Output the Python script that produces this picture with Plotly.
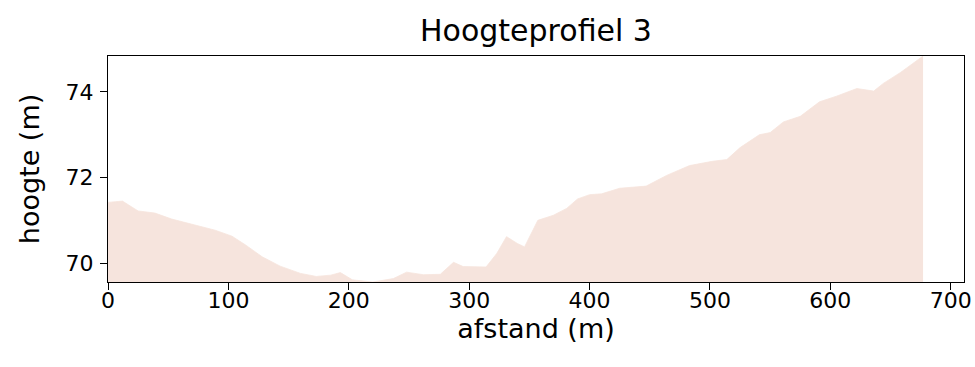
import plotly.graph_objects as go

afstand = [0, 12, 25, 39, 53, 70, 89, 103, 114, 128, 143, 160, 173, 185, 193, 203,
           220, 237, 248, 262, 276, 287, 295, 314, 323, 331, 340, 346, 357, 370,
           381, 390, 400, 410, 425, 447, 464, 483, 502, 514, 525, 541, 550, 561,
           575, 591, 605, 622, 636, 644, 658, 677]
hoogte = [71.42, 71.45, 71.22, 71.17, 71.03, 70.90, 70.77, 70.63, 70.43, 70.15,
          69.93, 69.76, 69.69, 69.72, 69.78, 69.61, 69.56, 69.64, 69.79, 69.73,
          69.74, 70.02, 69.92, 69.91, 70.23, 70.62, 70.46, 70.38, 71.00, 71.12,
          71.28, 71.50, 71.60, 71.62, 71.75, 71.80, 72.05, 72.28, 72.38, 72.42,
          72.70, 73.00, 73.05, 73.30, 73.43, 73.77, 73.90, 74.08, 74.02, 74.20,
          74.45, 74.84]
x_ticks = [0, 100, 200, 300, 400, 500, 600, 700]
y_ticks = [70, 72, 74]

fill_color = "rgb(246,228,221)"

fig = go.Figure()
fig.add_trace(go.Scatter(
    x=afstand, y=hoogte, mode="lines", fill="tozeroy",
    line=dict(color=fill_color, width=0.8), fillcolor=fill_color,
    hoverinfo="skip", showlegend=False,
))

font_family = "DejaVu Sans"
fig.update_layout(
    width=975, height=367,
    margin=dict(l=108, r=11, t=56, b=85),
    paper_bgcolor="white", plot_bgcolor="white",
    font=dict(family=font_family, color="black", size=22),
    title=dict(text="Hoogteprofiel 3", x=0.5, xanchor="center", xref="paper",
               y=1, yref="container", yanchor="top", pad=dict(t=20),
               font=dict(size=30, family=font_family, color="black")),
    showlegend=False,
)
fig.update_xaxes(
    range=[0, 711], tickvals=x_ticks, ticktext=[str(v) for v in x_ticks],
    showgrid=False, zeroline=False, showline=True, mirror=True,
    linecolor="black", linewidth=1.3, ticks="outside", ticklen=7, tickwidth=1.3,
    tickcolor="black", tickfont=dict(size=22), automargin=False,
    ticklabelstandoff=-9,
    title=dict(text="afstand (m)", font=dict(size=27), standoff=0),
)
fig.update_yaxes(
    range=[69.56, 74.84], tickvals=y_ticks, ticktext=[str(v) for v in y_ticks],
    showgrid=False, zeroline=False, showline=True, mirror=True,
    linecolor="black", linewidth=1.3, ticks="outside", ticklen=7, tickwidth=1.3,
    tickcolor="black", tickfont=dict(size=22), automargin=False,
    ticklabelstandoff=2,
    title=dict(text="hoogte (m)", font=dict(size=27), standoff=18),
)

fig.write_html("out.html", config={"displayModeBar": False},
               post_script="document.body.style.margin='0';document.body.style.padding='0';")
